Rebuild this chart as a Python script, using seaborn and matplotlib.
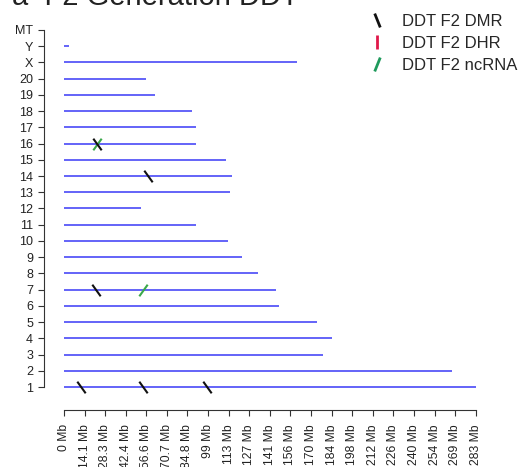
import numpy as np
import pandas as pd
import matplotlib
matplotlib.use("Agg")
import matplotlib.pyplot as plt
from matplotlib.path import Path
from matplotlib.lines import Line2D
import seaborn as sns

# ---- data ----
chromosomes = ["1", "2", "3", "4", "5", "6", "7", "8", "9", "10", "11", "12", "13",
               "14", "15", "16", "17", "18", "19", "20", "X", "Y", "MT"]
chrom_length_mb = [282.76, 266.44, 177.70, 184.23, 173.71, 147.99, 145.73, 133.31,
                   122.10, 112.63, 90.46, 52.72, 114.03, 115.49, 111.25, 90.67,
                   90.84, 88.20, 62.28, 56.21, 159.97, 3.31, 0.016]

dmr_chrom = ["1", "1", "1", "7", "14", "16"]
dmr_pos_mb = [11.5, 54.5, 98.0, 22.0, 57.7, 22.4]

dhr_chrom = []
dhr_pos_mb = []

ncrna_chrom = ["7", "16"]
ncrna_pos_mb = [54.5, 22.4]

xtick_labels = ["0 Mb", "14.1 Mb", "28.3 Mb", "42.4 Mb", "56.6 Mb", "70.7 Mb",
                "84.8 Mb", "99 Mb", "113 Mb", "127 Mb", "141 Mb", "156 Mb",
                "170 Mb", "184 Mb", "198 Mb", "212 Mb", "226 Mb", "240 Mb",
                "254 Mb", "269 Mb", "283 Mb"]

title_text = "a  F2 Generation DDT"
legend_labels = ["DDT F2 DMR", "DDT F2 DHR", "DDT F2 ncRNA"]

# ---- styling ----
sns.set_style("white")
plt.rcParams["font.family"] = ["Liberation Sans", "DejaVu Sans"]

W, H = 532, 467
fig = plt.figure(figsize=(W / 100, H / 100), dpi=100)
ax = fig.add_axes([44 / W, 57 / H, (496 - 44) / W, 400 / H])

ypos = {c: i for i, c in enumerate(chromosomes)}
chrom_df = pd.DataFrame({"chrom": chromosomes, "length": chrom_length_mb,
                         "y": [ypos[c] for c in chromosomes]})

line_color = "#5050f8"
ax.hlines(chrom_df["y"], 0, chrom_df["length"], color=line_color, lw=1.25, zorder=1)

back = Path([(-0.36, 0.5), (0.36, -0.5)], [Path.MOVETO, Path.LINETO])
fwd = Path([(-0.36, -0.5), (0.36, 0.5)], [Path.MOVETO, Path.LINETO])
vert = Path([(0, -0.5), (0, 0.5)], [Path.MOVETO, Path.LINETO])

dmr_df = pd.DataFrame({"pos": dmr_pos_mb, "y": [ypos[c] for c in dmr_chrom]})
nc_df = pd.DataFrame({"pos": ncrna_pos_mb, "y": [ypos[c] for c in ncrna_chrom]})
dhr_df = pd.DataFrame({"pos": dhr_pos_mb, "y": [ypos[c] for c in dhr_chrom]})

green = "#3aa84a"
red = "#e0184a"
sns.scatterplot(data=nc_df, x="pos", y="y", marker=fwd, s=70, color=green,
                edgecolor=green, linewidth=1.5, ax=ax, zorder=3, legend=False)
if len(dhr_df):
    sns.scatterplot(data=dhr_df, x="pos", y="y", marker=vert, s=70, color=red,
                    edgecolor=red, linewidth=1.5, ax=ax, zorder=3, legend=False)
sns.scatterplot(data=dmr_df, x="pos", y="y", marker=back, s=70, color="#111111",
                edgecolor="#111111", linewidth=1.5, ax=ax, zorder=4, legend=False)

ax.set_xlim(-13.7, 296.7)
ax.set_ylim(-1.417, 23.23)

xticks = np.linspace(0, 282.8, len(xtick_labels))
ax.set_xticks(xticks)
ax.set_xticklabels(xtick_labels, rotation=90, fontsize=8.7, color="#222222")
ax.set_yticks(range(len(chromosomes)))
ax.set_yticklabels(chromosomes, fontsize=9, color="#222222")
ax.set_xlabel("")
ax.set_ylabel("")

for s in ["top", "right"]:
    ax.spines[s].set_visible(False)
ax.spines["left"].set_bounds(0, len(chromosomes) - 1)
ax.spines["bottom"].set_bounds(0, 282.8)
for s in ["left", "bottom"]:
    ax.spines[s].set_linewidth(0.8)
    ax.spines[s].set_color("#333333")
ax.tick_params(axis="both", direction="out", length=4.3, width=0.8, color="#333333",
               bottom=True, left=True)
ax.tick_params(axis="y", pad=3.5)
ax.tick_params(axis="x", pad=6)

# legend
lback = Path([(-0.2, 0.5), (0.2, -0.5)], [Path.MOVETO, Path.LINETO])
lfwd = Path([(-0.2, -0.5), (0.2, 0.5)], [Path.MOVETO, Path.LINETO])
handles = [
    Line2D([], [], linestyle="None", marker=lback, markersize=10, markeredgewidth=2,
           markeredgecolor="#111111"),
    Line2D([], [], linestyle="None", marker=vert, markersize=10, markeredgewidth=2,
           markeredgecolor=red),
    Line2D([], [], linestyle="None", marker=lfwd, markersize=10, markeredgewidth=2,
           markeredgecolor="#1f9a5c"),
]
fig.legend(handles, legend_labels, loc="upper left",
           bbox_to_anchor=(369 / W, 1 - 14 / H), frameon=False, fontsize=12,
           handlelength=1.0, handletextpad=1.0, labelspacing=0.42,
           borderpad=0, borderaxespad=0)

fig.text(12 / W, 1 - 5 / H, title_text, fontsize=21, va="baseline", ha="left",
         color="#222222")

fig.savefig("out.png", dpi=100)
